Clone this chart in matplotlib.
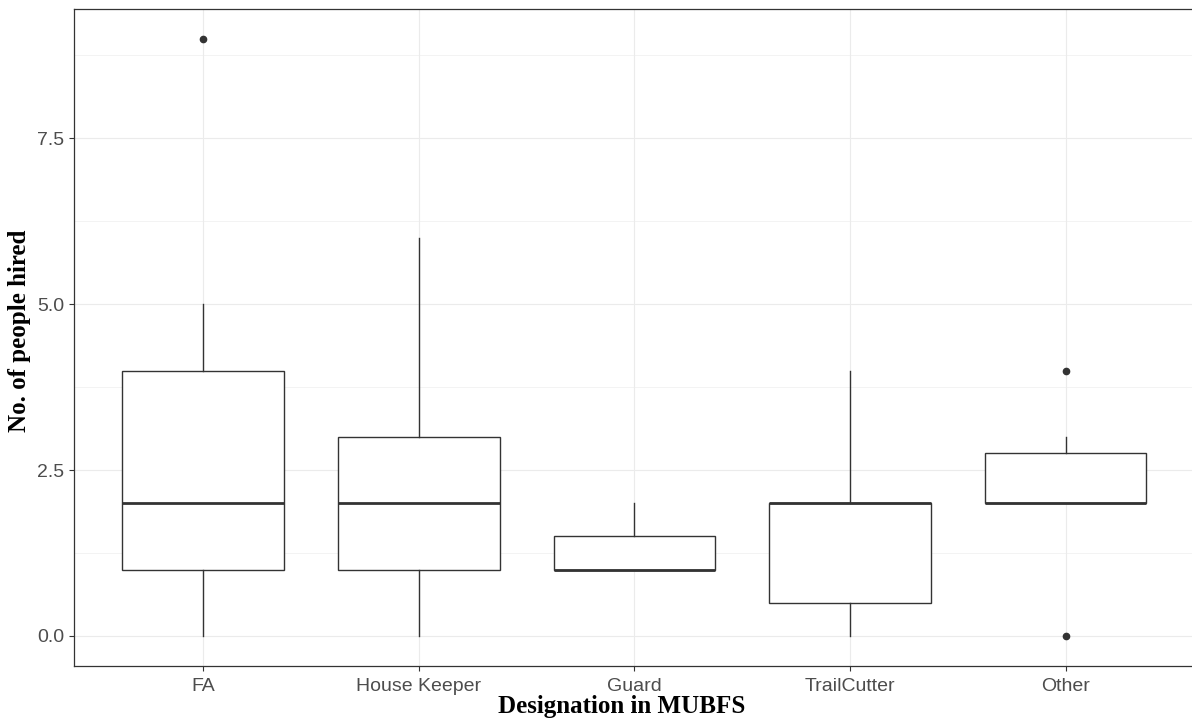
import numpy as np
import matplotlib.pyplot as plt
from matplotlib.ticker import FixedLocator

# box statistics per designation
categories = ['FA', 'House Keeper', 'Guard', 'TrailCutter', 'Other']
whislo = [0, 0, 1, 0, 2]
q1 = [1, 1, 1, 0.5, 2]
med = [2, 2, 1, 2, 2]
q3 = [4, 3, 1.5, 2, 2.75]
whishi = [5, 6, 2, 4, 3]
fliers = [[9], [], [], [], [0, 4]]

stats = []
for i in range(len(categories)):
    stats.append({'label': categories[i], 'whislo': whislo[i], 'q1': q1[i], 'med': med[i],
                  'q3': q3[i], 'whishi': whishi[i], 'fliers': fliers[i]})

fig = plt.figure(figsize=(11.92, 7.22), dpi=100)
ax = fig.add_axes([73.9 / 1192, 1 - 665.7 / 722, 1121 / 1192, 656.7 / 722])

dark = '#333333'
ax.bxp(stats, positions=np.arange(1, 6), widths=0.75, showcaps=False, patch_artist=True,
       boxprops=dict(facecolor='white', edgecolor=dark, linewidth=1.0),
       whiskerprops=dict(color=dark, linewidth=1.0),
       medianprops=dict(color=dark, linewidth=2.0),
       flierprops=dict(marker='o', markerfacecolor=dark, markeredgecolor=dark, markersize=4.5))

ax.set_xlim(0.4, 5.6)
ax.set_ylim(-0.45, 9.45)
ax.set_xticks(np.arange(1, 6))
ax.set_xticklabels(categories)
ax.set_yticks([0, 2.5, 5, 7.5])
ax.set_yticklabels(['0.0', '2.5', '5.0', '7.5'])
ax.yaxis.set_minor_locator(FixedLocator([1.25, 3.75, 6.25, 8.75]))

ax.set_axisbelow(True)
ax.grid(True, which='major', color='#EBEBEB', linewidth=0.8)
ax.grid(True, which='minor', axis='y', color='#EBEBEB', linewidth=0.4)
ax.tick_params(axis='both', which='major', labelsize=14, labelcolor='#4D4D4D', color=dark,
               length=3.7, width=0.8)
ax.tick_params(axis='x', which='major', pad=5.5)
ax.tick_params(axis='y', which='minor', length=0)
for lab in ax.get_xticklabels() + ax.get_yticklabels():
    lab.set_family('Liberation Sans')
for s in ax.spines.values():
    s.set_color(dark)
    s.set_linewidth(0.9)

fig.text(622 / 1192, 1 - 706 / 722, 'Designation in MUBFS', ha='center', va='center',
         fontsize=18, fontweight='bold', family='Liberation Serif')
fig.text(20 / 1192, 1 - 331 / 722, 'No. of people hired', ha='center', va='center', rotation=90,
         fontsize=18, fontweight='bold', family='Liberation Serif')

fig.savefig('out.png', dpi=100)
